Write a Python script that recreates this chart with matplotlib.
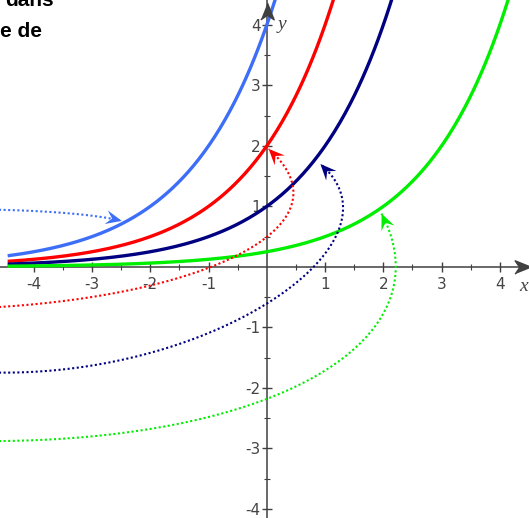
import numpy as np
import matplotlib.pyplot as plt
from matplotlib.patches import Polygon
from matplotlib.transforms import IdentityTransform

# translations of y = 2^x : y = 2^(x - h)
base = 2
shifts = [-2, -1, 0, 2]
curve_colors = ['#3d6ef7', '#ff0000', '#000080', '#00ee00']
x_start = -4.42

xticks = [-4, -3, -2, -1, 1, 2, 3, 4]
yticks = [-4, -3, -2, -1, 1, 2, 3, 4]
tick_labels = ['-4', '-3', '-2', '-1', '1', '2', '3', '4']

# dotted callout arrows, cubic bezier control points (data coords)
callout_blue = [(-5.0, 0.95), (-3.8, 0.94), (-2.9, 0.86), (-2.49, 0.76)]
callout_red = [(-4.9, -0.68), (-1.0, -0.5), (1.5, 0.7), (0.03, 1.95)]
callout_navy = [(-4.9, -1.74), (-1.0, -1.9), (2.5, 0.4), (0.92, 1.70)]
callout_green = [(-4.9, -2.88), (0.2, -2.9), (3.1, -1.2), (1.97, 0.88)]
callouts = [callout_blue, callout_red, callout_navy, callout_green]

caption_lines = ['dans', 'e de']

axis_col = '#404040'


def bezier(pts, n=200):
    p0, p1, p2, p3 = [np.array(p) for p in pts]
    t = np.linspace(0, 1, n)[:, None]
    return ((1 - t) ** 3 * p0 + 3 * (1 - t) ** 2 * t * p1
            + 3 * (1 - t) * t ** 2 * p2 + t ** 3 * p3)


def notched_head(ax, tip, back, color, length=16, width=7):
    # arrow head drawn in pixel space so it keeps its shape
    t = ax.transData.transform(tip)
    b = ax.transData.transform(back)
    d = (t - b) / np.hypot(*(t - b))
    n = np.array([-d[1], d[0]])
    verts = [t, t - length * d + width * n, t - 0.62 * length * d,
             t - length * d - width * n]
    ax.add_patch(Polygon(verts, closed=True, color=color, lw=0,
                         transform=IdentityTransform(), zorder=5))


fig = plt.figure(figsize=(5.29, 5.18), dpi=100)
ax = fig.add_axes([0, 0, 1, 1])
ax.set_xlim(-4.58, 4.50)
ax.set_ylim(-4.15, 4.41)

# the curves
xs = np.linspace(x_start, 4.6, 400)
for h, c in zip(shifts, curve_colors):
    ax.plot(xs, base ** (xs - h), color=c, lw=2.4, zorder=3)

# dotted callouts with heads
for pts, c in zip(callouts, curve_colors):
    b = bezier(pts)
    ax.plot(b[:, 0], b[:, 1], color=c, lw=1.5, ls=(0, (1, 1.2)), zorder=4)
    notched_head(ax, b[-1], b[-12], c)

# axes through the origin
for s in ['top', 'right']:
    ax.spines[s].set_visible(False)
ax.spines['left'].set_position('zero')
ax.spines['bottom'].set_position('zero')
for s in ['left', 'bottom']:
    ax.spines[s].set_color(axis_col)
    ax.spines[s].set_linewidth(1.1)

ax.set_xticks(xticks)
ax.set_xticklabels(tick_labels)
ax.set_yticks(yticks)
ax.set_yticklabels(tick_labels)
minor = [-3.5, -2.5, -1.5, -0.5, 0.5, 1.5, 2.5, 3.5]
ax.set_xticks(minor, minor=True)
ax.set_yticks(minor, minor=True)
ax.tick_params(which='major', direction='inout', length=7, width=1,
               color=axis_col, labelcolor='#444444', labelsize=11, pad=1)
ax.tick_params(axis='x', which='major', pad=4)
ax.tick_params(which='minor', direction='inout', length=5, width=0.8,
               color=axis_col)

# arrow heads on the axes
right_head = [(1, 0), (-1, 0.8), (-0.45, 0), (-1, -0.8)]
up_head = [(0, 1), (0.8, -1), (0, -0.45), (-0.8, -1)]
ax.plot(4.40, 0, marker=right_head, ms=12, color=axis_col, clip_on=False, zorder=6)
ax.plot(0, 4.22, marker=up_head, ms=12, color=axis_col, clip_on=False, zorder=6)

ax.text(0.26, 4.0, 'y', family='Liberation Serif', style='italic',
        fontsize=14, color='#444444', ha='center', va='center')
ax.text(4.41, -0.33, 'x', family='Liberation Serif', style='italic',
        fontsize=14, color='#444444', ha='center', va='center')

# clipped caption from the surrounding page
fig.text(54 / 529, 1 - 6.5 / 518, caption_lines[0], ha='right', va='baseline',
         fontsize=15, weight='bold', family='Liberation Sans')
fig.text(42 / 529, 1 - 37 / 518, caption_lines[1], ha='right', va='baseline',
         fontsize=15, weight='bold', family='Liberation Sans')

fig.savefig('out.png', dpi=100)
